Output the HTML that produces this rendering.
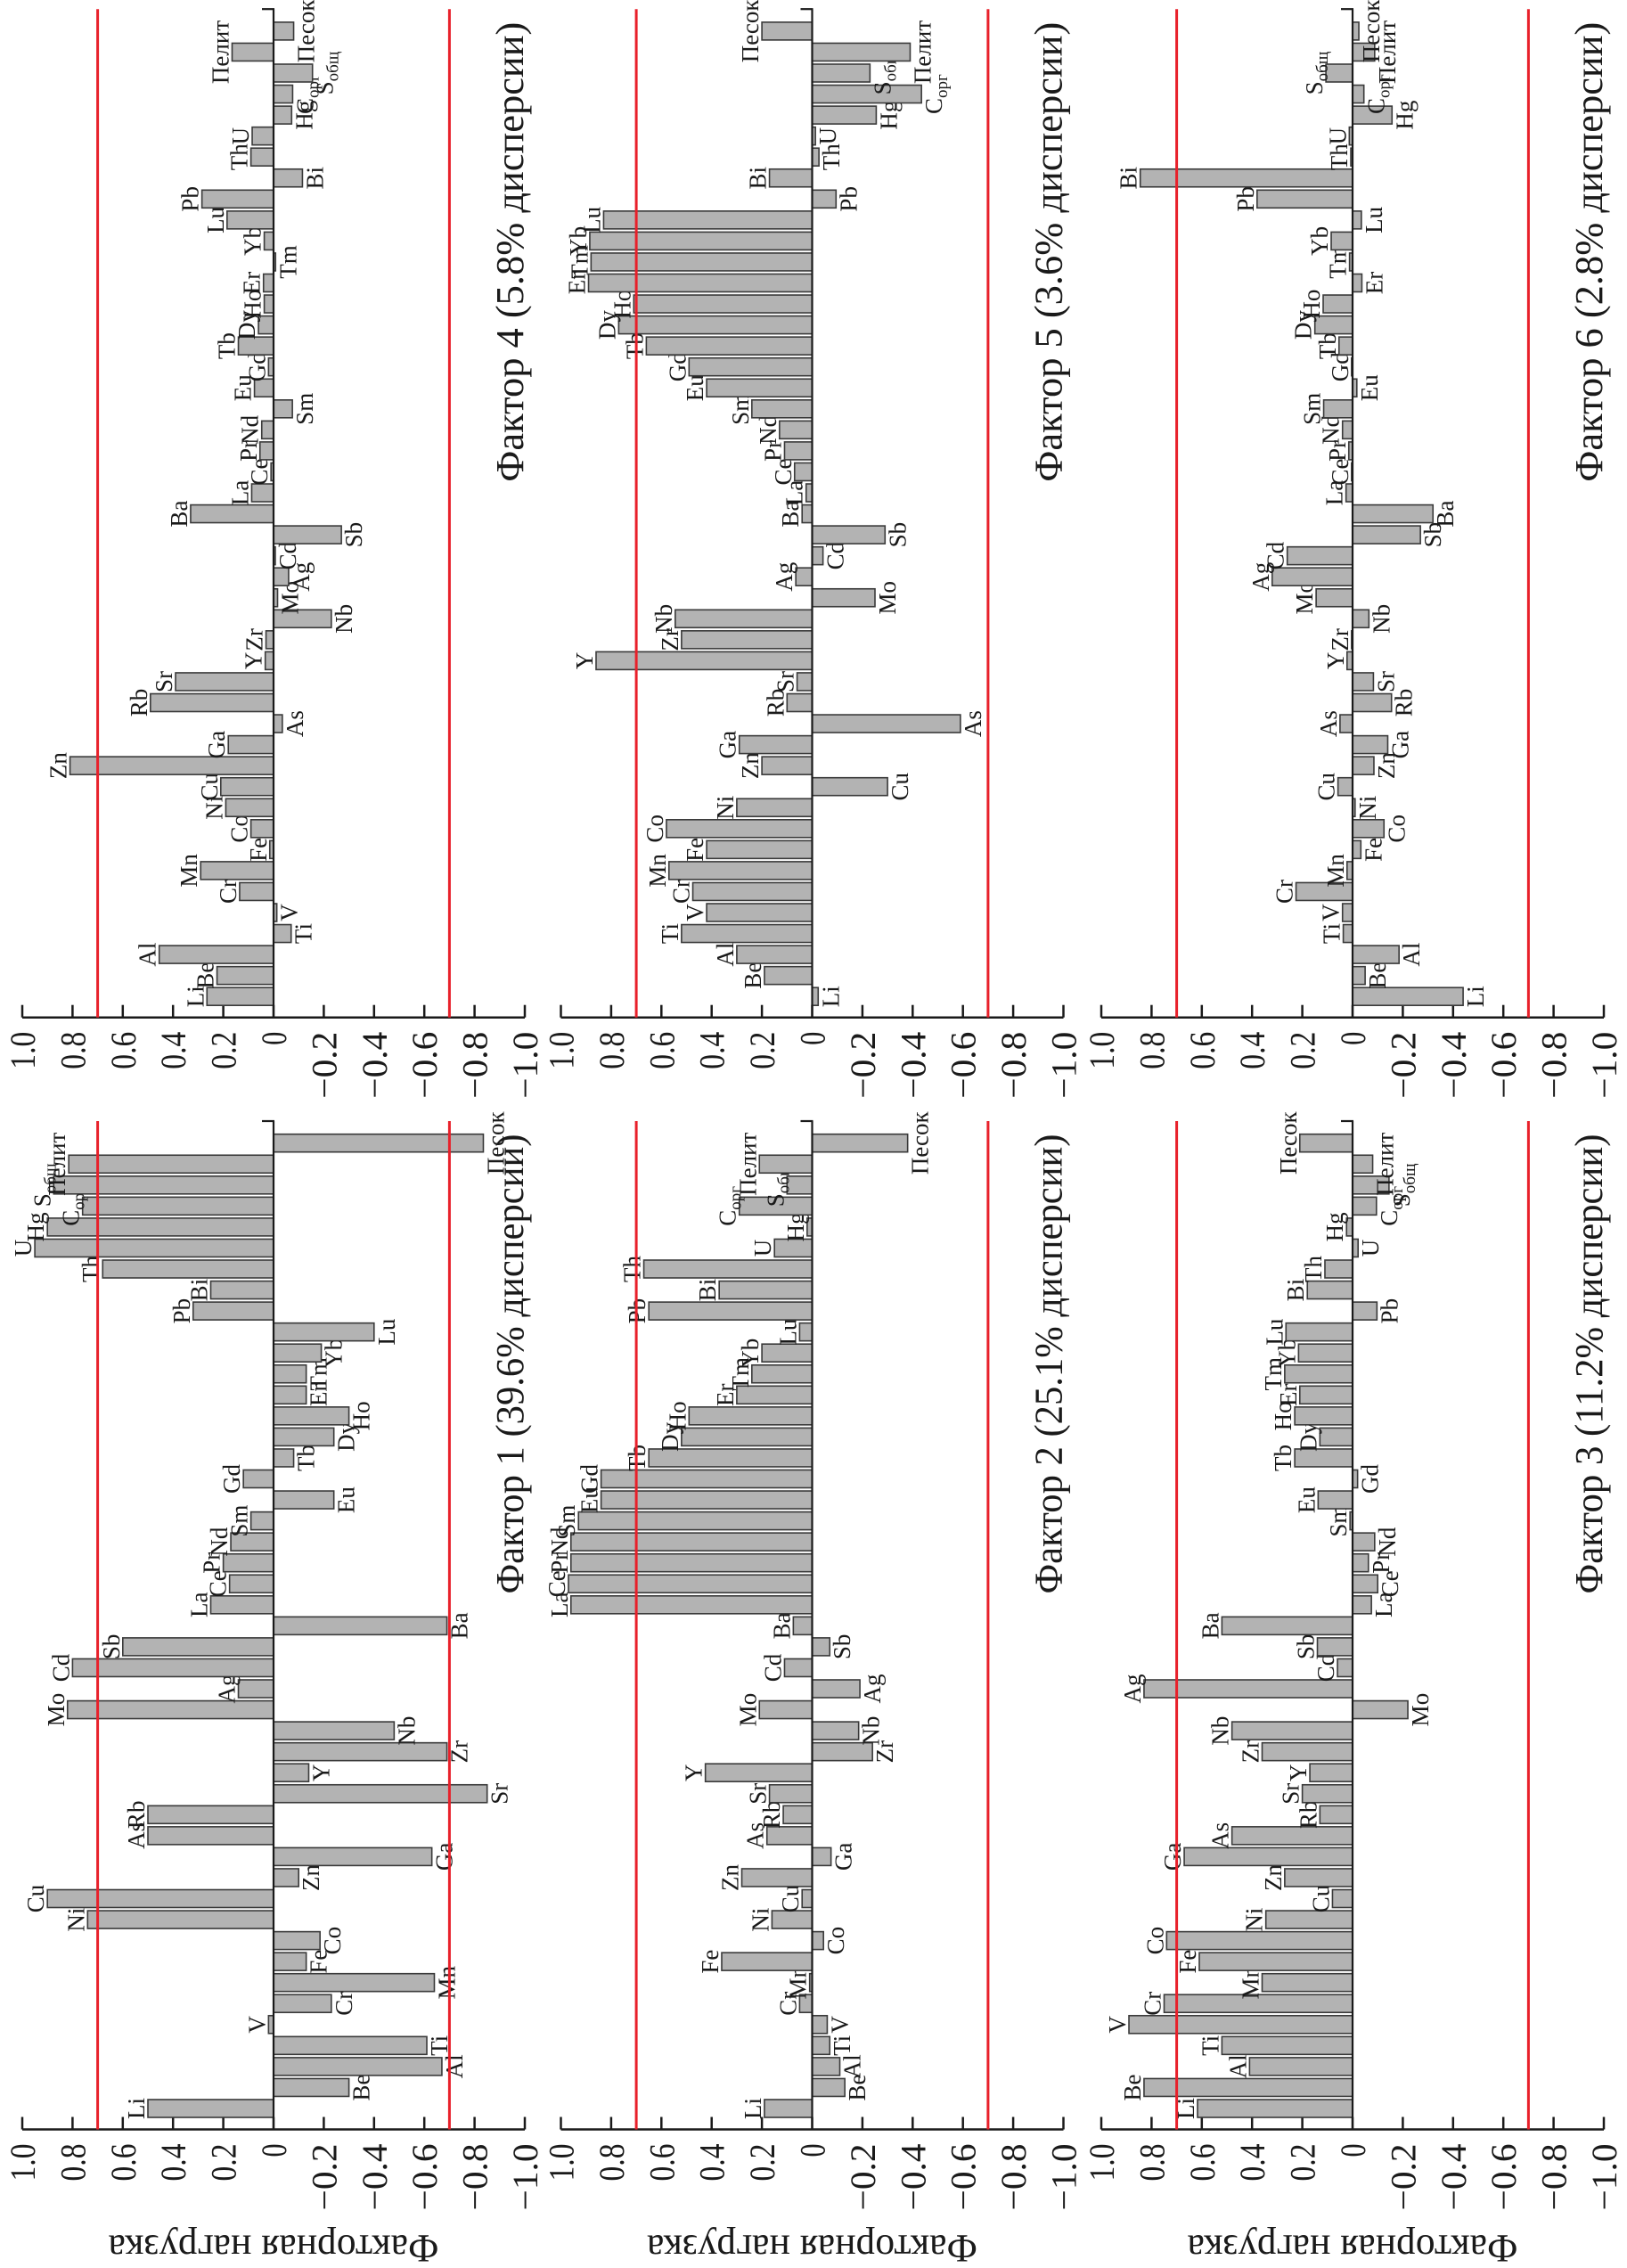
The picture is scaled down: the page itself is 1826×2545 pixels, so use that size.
<!DOCTYPE html>
<html>
<head>
<meta charset="utf-8">
<style>
  html, body { margin:0; padding:0; background:#fff; }
  #page { position:relative; width:1826px; height:2545px; overflow:hidden; background:#fff; }
  #chart { position:absolute; left:0; top:0; transform-origin:0 0; transform:translate(0px,2545px) rotate(-90deg); }
  text { font-family:"Liberation Serif", "DejaVu Serif", serif; fill:#1a1a1a; }
</style>
</head>
<body>
<div id="page">
<svg id="chart" width="2545" height="1826" viewBox="0 0 2545 1826" xmlns="http://www.w3.org/2000/svg"></svg>
</div>
<script>
const categories = ["Li","Be","Al","Ti","V","Cr","Mn","Fe","Co","Ni","Cu","Zn","Ga","As","Rb","Sr","Y","Zr","Nb","Mo","Ag","Cd","Sb","Ba","La","Ce","Pr","Nd","Sm","Eu","Gd","Tb","Dy","Ho","Er","Tm","Yb","Lu","Pb","Bi","Th","U","Hg","Cорг","Sобщ","Пелит","Песок"];

const factor1 = [0.50,-0.30,-0.67,-0.61,0.02,-0.23,-0.64,-0.13,-0.185,0.74,0.90,-0.10,-0.63,0.50,0.50,-0.85,-0.14,-0.69,-0.48,0.82,0.14,0.80,0.60,-0.69,0.25,0.175,0.20,0.17,0.09,-0.24,0.12,-0.08,-0.24,-0.30,-0.13,-0.13,-0.19,-0.40,0.32,0.25,0.68,0.95,0.90,0.76,0.875,0.815,-0.835];
const factor2 = [0.19,-0.13,-0.11,-0.07,-0.06,0.05,0.01,0.36,-0.045,0.16,0.04,0.28,-0.075,0.18,0.115,0.17,0.425,-0.24,-0.185,0.21,-0.19,0.11,-0.07,0.075,0.96,0.97,0.96,0.96,0.93,0.84,0.84,0.65,0.52,0.49,0.30,0.24,0.20,0.05,0.65,0.37,0.67,0.15,0.02,0.29,0.10,0.21,-0.38];
const factor3 = [0.617,0.83,0.41,0.52,0.89,0.75,0.36,0.61,0.74,0.345,0.08,0.27,0.67,0.48,0.13,0.20,0.17,0.36,0.48,-0.22,0.83,0.06,0.14,0.52,-0.075,-0.10,-0.063,-0.088,0.01,0.137,-0.02,0.23,0.13,0.23,0.21,0.27,0.215,0.265,-0.097,0.18,0.11,-0.022,0.024,-0.095,-0.145,-0.08,0.21];
const factor4 = [0.265,0.225,0.455,-0.07,-0.013,0.135,0.29,0.015,0.09,0.19,0.21,0.81,0.18,-0.035,0.49,0.39,0.033,0.03,-0.23,-0.016,-0.06,-0.007,-0.27,0.33,0.087,0.01,0.054,0.047,-0.075,0.076,0.02,0.14,0.06,0.037,0.04,-0.008,0.037,0.185,0.285,-0.115,0.09,0.085,-0.072,-0.076,-0.155,0.165,-0.08];
const factor5 = [-0.024,0.19,0.30,0.52,0.42,0.475,0.57,0.42,0.58,0.30,-0.30,0.20,0.29,-0.59,0.10,0.06,0.86,0.52,0.545,-0.25,0.065,-0.043,-0.29,0.04,0.024,0.07,0.11,0.13,0.24,0.42,0.49,0.66,0.77,0.71,0.89,0.88,0.885,0.83,-0.095,0.17,-0.027,-0.013,-0.255,-0.435,-0.23,-0.39,0.20];
const factor6 = [-0.44,-0.05,-0.185,0.037,0.04,0.225,0.022,-0.033,-0.125,-0.01,0.058,-0.085,-0.14,0.05,-0.155,-0.083,0.022,0.004,-0.065,0.145,0.32,0.26,-0.27,-0.32,0.026,0.004,0.015,0.04,0.115,-0.017,0.004,0.054,0.15,0.117,-0.037,0.012,0.085,-0.035,0.38,0.845,0.007,0.013,-0.157,-0.045,0.106,-0.088,-0.025];

const tickValues = [1.0,0.8,0.6,0.4,0.2,0,-0.2,-0.4,-0.6,-0.8,-1.0];
const tickLabels = ["1.0","0.8","0.6","0.4","0.2","0","\u22120.2","\u22120.4","\u22120.6","\u22120.8","\u22121.0"];
const thresholds = [0.7,-0.7];
const titles = ["Фактор 1 (39.6% дисперсии)","Фактор 2 (25.1% дисперсии)","Фактор 3 (11.2% дисперсии)","Фактор 4 (5.8% дисперсии)","Фактор 5 (3.6% дисперсии)","Фактор 6 (2.8% дисперсии)"];
const yAxisTitle = "Факторная нагрузка";

const NS = "http://www.w3.org/2000/svg";
const svg = document.getElementById("chart");
const series = [factor1, factor2, factor3, factor4, factor5, factor6];
const layout = [
  {x0:155.5, zero:307},
  {x0:155.5, zero:911.5},
  {x0:155.5, zero:1518},
  {x0:1403.3, zero:307},
  {x0:1403.3, zero:911.5},
  {x0:1403.3, zero:1518}
];
const UNIT = 282, FIRST = 23.5, PITCH = 23.55, BARW = 20, PLOTLEN = 1131.5;
const subs = {"Cорг":["C","орг"], "Sобщ":["S","общ"]};

function mk(tag, attrs, parent) {
  const e = document.createElementNS(NS, tag);
  for (const k in attrs) e.setAttribute(k, attrs[k]);
  (parent || svg).appendChild(e);
  return e;
}

series.forEach((vals, p) => {
  const L = layout[p];
  const yOf = v => L.zero - v * UNIT;
  const xOf = i => L.x0 + FIRST + i * PITCH;
  const g = mk("g", {});
  
  

  const spine = mk("line", {x1:L.x0, y1:yOf(1), x2:L.x0, y2:yOf(-1), stroke:"#1a1a1a", "stroke-width":2.5}, g);
  
  

  tickValues.forEach((tv, k) => {
    const t = mk("line", {x1:L.x0, y1:yOf(tv), x2:L.x0 + 14, y2:yOf(tv), stroke:"#1a1a1a", "stroke-width":2.5}, g);
    
    
    const lab = tickLabels[k];
    const len = lab.length === 1 ? 15 : (lab.length === 3 ? 42 : 75);
    const tx = mk("text", {x:L.x0 - 16, y:yOf(tv) + 14, "text-anchor":"end", "font-size":40, textLength:len, lengthAdjust:"spacingAndGlyphs"}, g);
    tx.textContent = lab;
    
    
  });

  if (p < 3) {
    const yt = mk("text", {x:0, y:0, "text-anchor":"middle", "font-size":44, textLength:371, lengthAdjust:"spacingAndGlyphs", transform:"translate(" + (L.x0 - 119) + "," + L.zero + ") rotate(-90)"}, g);
    yt.textContent = yAxisTitle;
    
    
  }

  vals.forEach((v, i) => {
    const cx = xOf(i);
    const yv = yOf(v);
    const top = Math.min(yv, L.zero), h = Math.abs(yv - L.zero);
    const r = mk("rect", {x:cx - BARW / 2, y:top, width:BARW, height:Math.max(h, 0.5), fill:"#b3b3b3", stroke:"#3a3a3a", "stroke-width":1.6}, g);
    
    

    const name = categories[i];
    const by = v >= 0 ? yv - 4 : yv + 23;
    const lt = mk("text", {x:cx, y:by, "text-anchor":"middle", "font-size":27}, g);
    if (subs[name]) {
      const a = mk("tspan", {}, lt); a.textContent = subs[name][0];
      const b = mk("tspan", {"font-size":19, dy:6}, lt); b.textContent = subs[name][1];
    } else {
      lt.textContent = name;
    }
    
    
  });

  const zl = mk("line", {x1:L.x0, y1:L.zero, x2:L.x0 + PLOTLEN, y2:L.zero, stroke:"#1a1a1a", "stroke-width":2.2}, g);
  
  
  const zt = mk("line", {x1:L.x0 + PLOTLEN, y1:L.zero + 1, x2:L.x0 + PLOTLEN, y2:L.zero - 13, stroke:"#1a1a1a", "stroke-width":2.2}, g);
  
  

  thresholds.forEach(th => {
    const rl = mk("line", {x1:L.x0, y1:yOf(th), x2:L.x0 + PLOTLEN, y2:yOf(th), stroke:"#e8202a", "stroke-width":3}, g);
    
    
  });

  const tt = mk("text", {x:L.x0 + 1117, y:L.zero + 280, "text-anchor":"end", "font-size":44, textLength:516, lengthAdjust:"spacingAndGlyphs"}, g);
  tt.textContent = titles[p];
  
  
});
</script>
</body>
</html>
